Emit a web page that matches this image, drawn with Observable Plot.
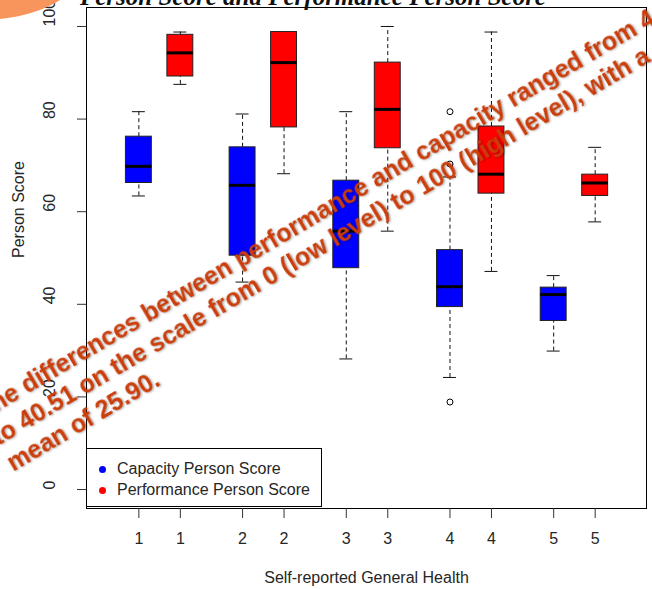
<!DOCTYPE html>
<html><head><meta charset="utf-8">
<script src="https://cdn.jsdelivr.net/npm/d3@7"></script>
<script src="https://cdn.jsdelivr.net/npm/@observablehq/plot@0.6"></script>
<style>
html,body{margin:0;padding:0;background:#fff;overflow:hidden;}
#wrap{position:relative;width:652px;height:589px;overflow:hidden;background:#fff;}
#legend{position:absolute;left:86px;top:448px;width:236px;height:59px;border:1px solid #000;box-sizing:border-box;background:#fff;font-family:"Liberation Sans",Arial,sans-serif;font-size:16px;color:#262626;}
#legend .row{position:absolute;left:0;height:20px;line-height:20px;white-space:nowrap;}
#legend .dot{position:absolute;left:12px;top:7px;width:7px;height:7px;border-radius:50%;}
#legend .lab{position:absolute;left:30px;top:0;}
</style></head><body><div id="wrap"></div>
<script>
// ---- data ----
const groups = [1, 2, 3, 4, 5];
const seriesNames = ["Capacity Person Score", "Performance Person Score"];
const seriesColors = ["#0000ff", "#ff0000"];
const capLow  = [63.4, 44.8, 28.2, 24.2, 29.9];
const capQ1   = [66.2, 50.5, 47.8, 39.4, 36.4];
const capMed  = [69.8, 65.7, 55.8, 43.8, 42.1];
const capQ3   = [76.2, 73.9, 66.7, 51.7, 43.6];
const capHigh = [81.6, 81.1, 81.6, 67.5, 46.2];
const capOutliers = [[], [], [], [81.6, 70.3, 18.9], []];
const perfLow  = [87.5, 68.2, 55.8, 47.1, 57.8];
const perfQ1   = [89.2, 78.2, 73.7, 63.9, 63.4];
const perfMed  = [94.3, 92.2, 82.1, 68.1, 66.2];
const perfQ3   = [98.2, 98.8, 92.2, 78.4, 68.0];
const perfHigh = [98.8, 98.8, 100, 98.8, 73.9];
const perfOutliers = [[], [], [], [], []];
const yTicks = [0, 20, 40, 60, 80, 100];
const yTitle = "Person Score";
const xTitle = "Self-reported General Health";
const chartTitle = "Person Score and Performance Person Score";
const noteLines = [
  "The differences between performance and capacity ranged from 4",
  "to 40.51 on the scale from 0 (low level) to 100 (high level), with a",
  "mean of 25.90."
];

// ---- build tables ----
const stats = [
  {low: capLow, q1: capQ1, med: capMed, q3: capQ3, high: capHigh, out: capOutliers},
  {low: perfLow, q1: perfQ1, med: perfMed, q3: perfQ3, high: perfHigh, out: perfOutliers}
];
const offset = 0.4, half = 0.125, cap = 0.0625;
const boxes = [], outliers = [], ticks = [], tickLabel = new Map();
stats.forEach((s, si) => {
  groups.forEach((g, gi) => {
    const pos = g + si * offset;
    boxes.push({pos, low: s.low[gi], q1: s.q1[gi], med: s.med[gi], q3: s.q3[gi], high: s.high[gi], color: seriesColors[si]});
    s.out[gi].forEach(v => outliers.push({pos, value: v}));
    ticks.push(pos);
    tickLabel.set(Math.round(pos * 10), String(g));
  });
});

const chart = Plot.plot({
  width: 652, height: 589,
  marginLeft: 86, marginRight: 6, marginTop: 7, marginBottom: 81,
  style: {fontFamily: "Liberation Sans, Arial, sans-serif", fontSize: "16px", color: "#262626", background: "transparent"},
  x: {domain: [0.495, 5.895]},
  y: {domain: [-4.1, 104.1]},
  color: {type: "identity"},
  marks: [
    Plot.ruleX(boxes, {x: "pos", y1: "q3", y2: "high", stroke: "#111", strokeDasharray: "4,3"}),
    Plot.ruleX(boxes, {x: "pos", y1: "low", y2: "q1", stroke: "#111", strokeDasharray: "4,3"}),
    Plot.ruleY(boxes, {y: "high", x1: d => d.pos - cap, x2: d => d.pos + cap, stroke: "#111"}),
    Plot.ruleY(boxes, {y: "low", x1: d => d.pos - cap, x2: d => d.pos + cap, stroke: "#111"}),
    Plot.rect(boxes, {x1: d => d.pos - half, x2: d => d.pos + half, y1: "q1", y2: "q3", fill: "color", stroke: "#222", strokeWidth: 1}),
    Plot.ruleY(boxes, {y: "med", x1: d => d.pos - half, x2: d => d.pos + half, stroke: "#000", strokeWidth: 3}),
    Plot.dot(outliers, {x: "pos", y: "value", r: 3, stroke: "#000", fill: "none", strokeWidth: 1}),
    Plot.frame({stroke: "#000"}),
    Plot.axisX({ticks, tickSize: 10, tickPadding: 14, tickFormat: d => tickLabel.get(Math.round(d * 10)), label: null, stroke: "#333"}),
    Plot.axisY({ticks: yTicks, tickSize: 9, tickFormat: () => "", label: null, stroke: "#333"}),
    Plot.text(yTicks, {y: d => d, text: d => String(d), frameAnchor: "left", dx: -37, rotate: -90, fill: "#262626"}),
    Plot.text([yTitle], {text: d => d, frameAnchor: "left", dx: -68, rotate: -90, fill: "#262626"}),
    Plot.text([xTitle], {text: d => d, frameAnchor: "bottom", dy: 74, fill: "#262626"})
  ]
});
const wrap = document.getElementById("wrap");
wrap.appendChild(chart);

// legend (R-style box in the lower-left corner)
const legend = document.createElement("div");
legend.id = "legend";
seriesNames.forEach((name, i) => {
  const row = document.createElement("div");
  row.className = "row";
  row.style.top = (10 + i * 21) + "px";
  row.innerHTML = `<span class="dot" style="background:${seriesColors[i]}"></span><span class="lab"></span>`;
  row.querySelector(".lab").textContent = name;
  legend.appendChild(row);
});
wrap.appendChild(legend);

// slide overlay: clipped title, decorative shape, annotation text
const ov = d3.select(wrap).append("svg")
  .attr("width", 652).attr("height", 589)
  .style("position", "absolute").style("left", "0px").style("top", "0px").style("overflow", "hidden");
ov.append("text").attr("x", 80).attr("y", 4.5)
  .attr("font-family", "Liberation Serif, Times New Roman, serif")
  .attr("font-weight", "bold").attr("font-style", "italic").attr("font-size", 25)
  .attr("fill", "#111").text(chartTitle);
ov.append("ellipse").attr("cx", -20).attr("cy", -30).attr("rx", 100).attr("ry", 50).attr("fill", "#f7955c");
const note = ov.append("text")
  .attr("transform", "translate(-2,446) rotate(-30.5)")
  .attr("font-family", "Liberation Sans, Arial, sans-serif")
  .attr("font-weight", "bold").attr("font-size", 25)
  .attr("fill", "#cc3d0a")
  .style("filter", "drop-shadow(1.2px 1.2px 0.8px rgba(0,0,0,0.35))");
noteLines.forEach((line, i) => {
  note.append("tspan").attr("x", 0).attr("y", (i - 1) * 30).text(line);
});
</script></body></html>
